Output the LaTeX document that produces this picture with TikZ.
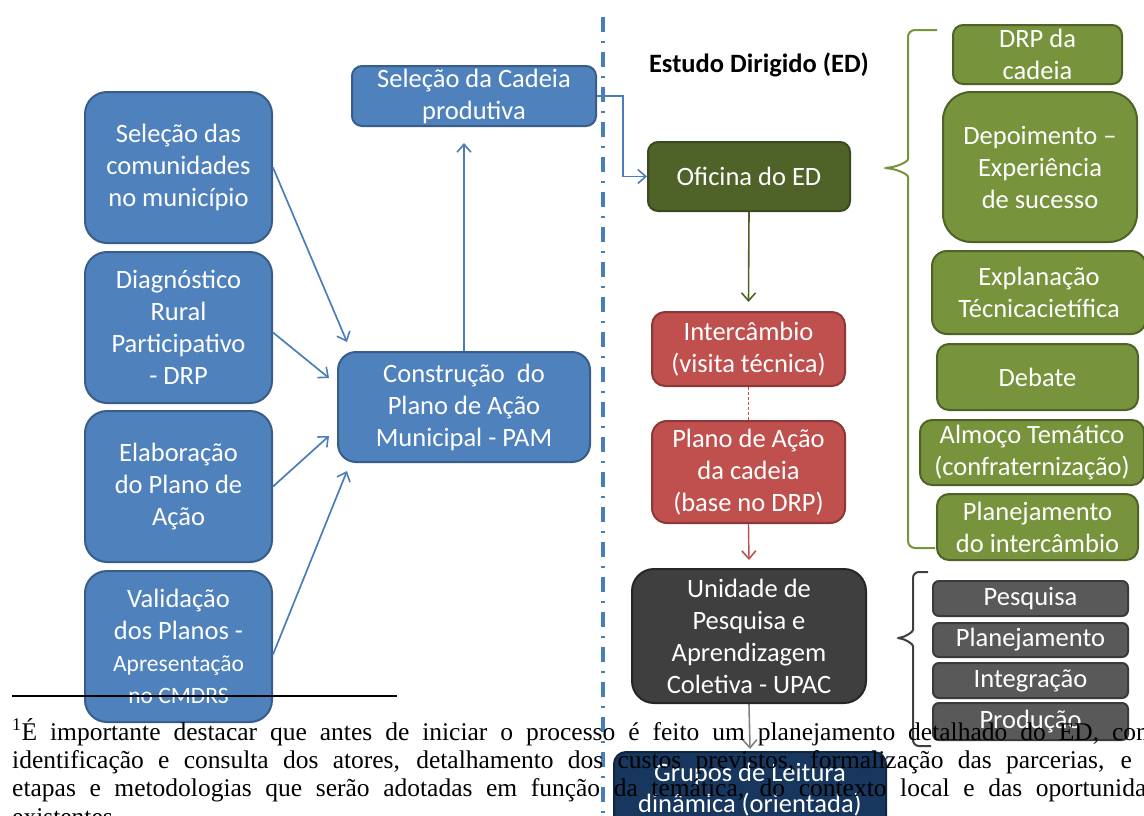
\documentclass[tikz,border=0pt]{standalone}
\usepackage{fontspec}
\setmainfont{Carlito}
\newfontfamily\tnr{Liberation Serif}
\usetikzlibrary{arrows.meta,calc}
\definecolor{bfill}{HTML}{4F81BD}
\definecolor{bline}{HTML}{385D8A}
\definecolor{barrow}{HTML}{4A7EBB}
\definecolor{ofill}{HTML}{4F6228}
\definecolor{oline}{HTML}{3B4A1E}
\definecolor{gfill}{HTML}{77933C}
\definecolor{gline}{HTML}{4F6228}
\definecolor{rfill}{HTML}{C0504D}
\definecolor{rline}{HTML}{8C3836}
\definecolor{ufill}{HTML}{3F3F3F}
\definecolor{uline}{HTML}{262626}
\definecolor{nfill}{HTML}{17375E}
\definecolor{nline}{HTML}{10253F}
\definecolor{pfill}{HTML}{595959}
\definecolor{pline}{HTML}{3A3A3A}
\tikzset{
  bx/.style={rounded corners=#1, line width=2pt, text=white, align=center, inner sep=0pt,
    font=\fontsize{26.5}{32}\selectfont},
  bx/.default=12pt,
  bluebox/.style={bx=#1, fill=bfill, draw=bline}, bluebox/.default=22pt,
  olivebox/.style={bx=#1, fill=ofill, draw=oline}, olivebox/.default=10pt,
  greenbox/.style={bx=#1, fill=gfill, draw=gline}, greenbox/.default=12pt,
  redbox/.style={bx=#1, fill=rfill, draw=rline}, redbox/.default=13pt,
  darkbox/.style={bx=#1, fill=ufill, draw=uline}, darkbox/.default=22pt,
  navybox/.style={bx=#1, fill=nfill, draw=nline}, navybox/.default=12pt,
  greybox/.style={bx=#1, fill=pfill, draw=pline}, greybox/.default=6pt,
  tip/.style={-{Straight Barb[length=8pt,width=14pt,line width=1.6pt]}},
  barr/.style={draw=barrow, line width=1.7pt, tip},
  garr/.style={draw=ofill, line width=1.6pt, tip},
  rarr/.style={draw=rfill, line width=1.4pt, tip},
  karr/.style={draw=gray, line width=1.6pt, tip},
  fnline/.style={anchor=base west, inner sep=0pt, font=\tnr\fontsize{25.5}{28}\selectfont}
}
\begin{document}
\begin{tikzpicture}[x=1pt,y=-1pt]
\useasboundingbox (0,0) rectangle (1144,815);
\clip (0,0) rectangle (1144,815);

% separator
\draw[barrow, line width=3.3pt, dash pattern=on 15pt off 9pt on 2pt off 9pt] (603,17) -- (603,815);

% left column
\node[bluebox, minimum width=187, minimum height=151] (b1) at (178.5,167.5) {Seleção das\\comunidades\\no município};
\node[bluebox, minimum width=187, minimum height=151] (b2) at (178.5,327.5) {Diagnóstico\\Rural\\Participativo\\- DRP};
\node[bluebox, minimum width=187, minimum height=151] (b3) at (178.5,486.5) {Elaboração\\do Plano de\\Ação};
\node[bluebox, minimum width=187, minimum height=151] (b4) at (178.5,646.5) {Validação\\dos Planos -\\\fontsize{23.5}{28}\selectfont Apresentação\\\fontsize{23.5}{28}\selectfont no CMDRS};

\node[bluebox=10pt, minimum width=244, minimum height=60] (cad) at (474,96) {Seleção da Cadeia\\produtiva};
\node[bluebox=18pt, minimum width=252, minimum height=110] (pam) at (464,407) {Construção~ do\\Plano de Ação\\Municipal - PAM};

\draw[barr] (b1.east) -- ($(pam.north west)+(10,-9)$);
\draw[barr] ($(b2.east)+(0,5)$) -- ($(pam.west)+(-8,-29)$);
\draw[barr] (b3.east) -- ($(pam.west)+(-8,29)$);
\draw[barr] ($(b4.east)+(0,8)$) -- ($(pam.south west)+(10,8)$);
\draw[barr] (pam.north) -- ($(pam.north |- cad.south)+(0,16)$);

% title
\node[font=\bfseries\fontsize{26.5}{32}\selectfont, inner sep=0pt] (title) at (759,65) {Estudo Dirigido (ED)};

% centre column
\node[olivebox, minimum width=202, minimum height=69] (ofi) at (749,176.5) {Oficina do ED};
\node[redbox, minimum width=193, minimum height=74] (int) at (748.5,349) {Intercâmbio\\(visita técnica)};
\node[redbox=15pt, minimum width=193, minimum height=102] (pac) at (748.5,472) {Plano de Ação\\da cadeia\\(base no DRP)};
\node[darkbox, minimum width=234, minimum height=134] (upac) at (749,636) {Unidade de\\Pesquisa e\\Aprendizagem\\Coletiva - UPAC};
\node[navybox, minimum width=272, minimum height=76, font=\fontsize{26.5}{31}\selectfont] (grp) at (750,790) {Grupos de Leitura\\dinâmica (orientada)};

\draw[barr] (cad.east) -- ++(26,0) |- (ofi.west);
\draw[garr] (ofi.south) -- ($(int.north)+(0,-9)$);
\draw[rfill, line width=1.2pt, dash pattern=on 3pt off 2pt] (int.south) -- (pac.north);
\draw[rarr] (pac.south) -- ($(upac.north)+(0,-8)$);
\draw[karr] (upac.south) -- ($(grp.north)+(0,-2)$);

% right green column
\node[greenbox=10pt, minimum width=169, minimum height=59] (g1) at (1037.5,54.5) {DRP da\\cadeia};
\node[greenbox=28pt, minimum width=194, minimum height=150] (g2) at (1040,167) {Depoimento –\\Experiência\\de sucesso};
\node[greenbox=15pt, minimum width=214, minimum height=83] (g3) at (1039,292.5) {Explanação\\Técnicacietífica};
\node[greenbox, minimum width=201, minimum height=66] (g4) at (1037.5,377) {Debate};
\node[greenbox, minimum width=224, minimum height=65] (g5) at (1032,452.5) {Almoço Temático\\(confraternização)};
\node[greenbox, minimum width=201, minimum height=66] (g6) at (1037.5,527) {Planejamento\\do intercâmbio};

\draw[gfill, line width=2pt, rounded corners=7pt]
  (937,30) -- (908,30) -- (908,152)
  .. controls (908,162) and (896,167) .. (882,168)
  .. controls (896,169) and (908,174) .. (908,184)
  -- (908,548) -- (935,548);

% grey column
\node[greybox, minimum width=195, minimum height=35] (p1) at (1030.5,598.5) {Pesquisa};
\node[greybox, minimum width=195, minimum height=34] (p2) at (1030.5,640) {Planejamento};
\node[greybox, minimum width=195, minimum height=35] (p3) at (1030.5,680.5) {Integração};
\node[greybox, minimum width=195, minimum height=37] (p4) at (1030.5,721.5) {Produção};

\draw[ufill, line width=2pt, rounded corners=6pt]
  (928,572) -- (913,572) -- (913,624)
  .. controls (913,632) and (905,637) .. (895,638)
  .. controls (905,639) and (913,644) .. (913,652)
  -- (913,746) -- (931,746);

% footnote
\draw[black, line width=1.6pt] (12,696) -- (397,696);
\node[fnline] (fn1) at (12,740) {\makebox[1168pt][s]{\textsuperscript{1}É importante destacar que antes de iniciar o processo é feito um planejamento detalhado do ED, com a}};
\node[fnline] (fn2) at (12,768) {\makebox[1168pt][s]{identificação e consulta dos atores, detalhamento dos custos previstos, formalização das parcerias, e das}};
\node[fnline] (fn3) at (12,796) {\makebox[1168pt][s]{etapas e metodologias que serão adotadas em função da temática, do contexto local e das oportunidades}};
\node[fnline] (fn4) at (12,825) {existentes.};
\end{tikzpicture}
\end{document}
